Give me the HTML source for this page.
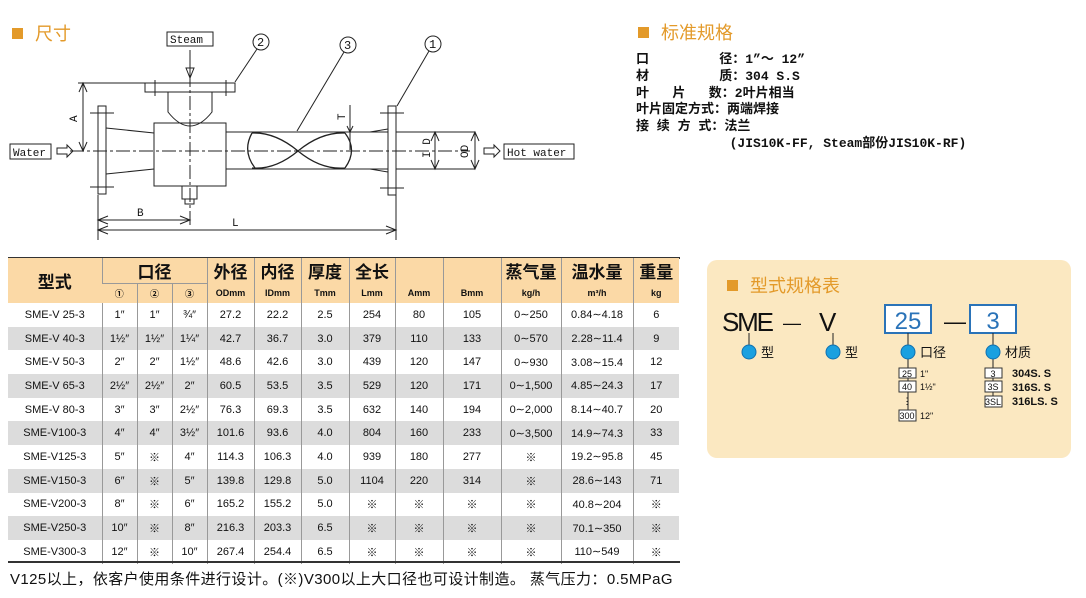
<!DOCTYPE html>
<html><head><meta charset="utf-8"><style>
body{margin:0;width:1086px;height:598px;background:#fff;position:relative;overflow:hidden;font-family:"Liberation Sans","Noto Sans CJK SC",sans-serif;}
.abs{position:absolute;white-space:nowrap;}
.ttl{color:#e39a2a;font-size:18px;}
.sq{display:inline-block;width:11px;height:11px;background:#e39a2a;margin-right:12px;vertical-align:1px;}
table{position:absolute;left:8px;top:258px;border-collapse:collapse;table-layout:fixed;font-family:"Liberation Sans","Noto Sans CJK SC",sans-serif;}
td{border-left:1px solid #999;text-align:center;font-size:11px;padding:0;height:23.7px;color:#111;}
td:first-child{border-left:none;}
tr.g td{background:#dcdcdc;}
thead td{background:#fbd9a6;font-size:17px;font-weight:bold;}
thead tr.s td{font-size:9px;height:19px;font-weight:bold;}
thead tr.h td{height:22px;}
.spec{font-size:13px;line-height:16.8px;font-weight:bold;font-family:"Liberation Mono","Noto Sans CJK SC",monospace;color:#111;}
</style></head><body>
<div class="abs ttl" style="left:12px;top:20px"><span class="sq"></span>尺寸</div>
<div class="abs ttl" style="left:638px;top:19px"><span class="sq"></span>标准规格</div>
<div class="abs spec" style="left:636px;top:52px">
口&nbsp;&nbsp;&nbsp;&nbsp;&nbsp;&nbsp;&nbsp;&nbsp;&nbsp;径：1”～ 12”<br>
材&nbsp;&nbsp;&nbsp;&nbsp;&nbsp;&nbsp;&nbsp;&nbsp;&nbsp;质：304 S.S<br>
叶&nbsp;&nbsp;&nbsp;片&nbsp;&nbsp;&nbsp;数：2叶片相当<br>
叶片固定方式：两端焊接<br>
接 续 方 式：法兰<br>
&nbsp;&nbsp;&nbsp;&nbsp;&nbsp;&nbsp;&nbsp;&nbsp;&nbsp;&nbsp;&nbsp;&nbsp;(JIS10K-FF, Steam部份JIS10K-RF)
</div>

<svg class="abs" style="left:0;top:0" width="620" height="255" viewBox="0 0 620 255" font-family="Liberation Mono,monospace" font-size="12">
<g stroke="#222" stroke-width="1" fill="none">
<rect x="98" y="106" width="8" height="88" fill="#fff"/>
<line x1="90" y1="113" x2="114" y2="113"/><line x1="90" y1="187" x2="114" y2="187"/>
<path d="M106 128 L154 133 M106 174 L154 169"/>
<rect x="154" y="123" width="72" height="63" fill="#fff"/>
<path d="M168 92 V112 Q190 140 212 112 V92"/>
<rect x="145" y="83" width="90" height="9" fill="#fff"/>
<line x1="155" y1="80" x2="155" y2="96"/><line x1="226" y1="80" x2="226" y2="96"/>
<rect x="182" y="186" width="15" height="13"/><rect x="185" y="199" width="9" height="5"/>
<line x1="226" y1="132" x2="475" y2="132"/><line x1="226" y1="169" x2="475" y2="169"/>
<line x1="475" y1="132" x2="475" y2="169"/>
<path d="M370 132 L388 129 M370 169 L388 172"/>
<rect x="388" y="106" width="8" height="89" fill="#fff"/>
<line x1="380" y1="113" x2="404" y2="113"/><line x1="380" y1="188" x2="404" y2="188"/>
<path d="M252 133 Q275 132 298 151 Q321 170 345 168 M252 168 Q275 170 298 151 Q321 132 345 133 M252 133 Q242 151 255 168 M345 133 Q358 150 345 168" stroke-width="1.3"/>
<line x1="70" y1="151" x2="470" y2="151" stroke-dasharray="14,3,3,3"/>
<line x1="190" y1="50" x2="190" y2="225" stroke-dasharray="14,3,3,3"/>
<line x1="190" y1="50" x2="190" y2="77"/><path d="M186 68 L190 78 L194 68 Z"/>
<line x1="78" y1="83" x2="145" y2="83"/>
<line x1="83" y1="83" x2="83" y2="151"/><path d="M79 92 L83 83 L87 92 M79 142 L83 151 L87 142"/>
<line x1="98" y1="195" x2="98" y2="240"/><line x1="396" y1="195" x2="396" y2="240"/>
<line x1="98" y1="220" x2="190" y2="220"/><path d="M108 216 L98 220 L108 224 M180 216 L190 220 L180 224"/>
<line x1="98" y1="230" x2="396" y2="230"/><path d="M108 226 L98 230 L108 234 M386 226 L396 230 L386 234"/>
<line x1="435" y1="132" x2="435" y2="169"/><path d="M431 141 L435 132 L439 141 M431 160 L435 169 L439 160"/>
<line x1="475" y1="132" x2="475" y2="169"/><path d="M471 141 L475 132 L479 141 M471 160 L475 169 L479 160"/>
<line x1="350" y1="105" x2="350" y2="150"/><path d="M347 126 L350 132 L353 126"/>
<circle cx="261" cy="42" r="8"/><circle cx="348" cy="45" r="8"/><circle cx="433" cy="44" r="8"/>
<line x1="257" y1="49" x2="235" y2="82"/><line x1="344" y1="52" x2="297" y2="131"/><line x1="429" y1="51" x2="397" y2="106"/>
<rect x="167" y="32" width="46" height="14"/><rect x="10" y="144" width="41" height="15"/><rect x="504" y="144" width="70" height="15"/>
<path d="M57 148 H67 V145 L73 151 L67 157 V154 H57 Z M484 148 H494 V145 L500 151 L494 157 V154 H484 Z"/>
</g>
<g fill="#111" font-size="11">
<text x="170" y="43">Steam</text><text x="13" y="156">Water</text><text x="507" y="156">Hot water</text>
<text x="257" y="46" font-size="12">2</text><text x="344" y="49" font-size="12">3</text><text x="429" y="48" font-size="12">1</text>
<text x="137" y="216">B</text><text x="232" y="226">L</text>
<text transform="translate(77,122) rotate(-90)">A</text>
<text transform="translate(430,158) rotate(-90)">I D</text>
<text transform="translate(468,158) rotate(-90)">OD</text>
<text transform="translate(345,120) rotate(-90)">T</text>
</g>
</svg>

<div class="abs" style="left:8px;top:257px;width:672px;height:2px;background:#333"></div>
<table>
<colgroup><col style="width:94px"><col style="width:35px"><col style="width:35px"><col style="width:35px"><col style="width:47px"><col style="width:47px"><col style="width:48px"><col style="width:46px"><col style="width:48px"><col style="width:58px"><col style="width:60px"><col style="width:72px"><col style="width:46px"></colgroup>
<thead>
<tr class="h"><td rowspan="2">型式</td><td colspan="3" style="border-bottom:1px solid #999">口径</td><td>外径</td><td>内径</td><td>厚度</td><td>全长</td><td></td><td></td><td>蒸气量</td><td>温水量</td><td>重量</td></tr>
<tr class="s"><td>①</td><td>②</td><td>③</td><td>ODmm</td><td>IDmm</td><td>Tmm</td><td>Lmm</td><td>Amm</td><td>Bmm</td><td>kg/h</td><td>m³/h</td><td>kg</td></tr>
</thead>
<tbody>
<tr><td>SME-V 25-3</td><td>1″</td><td>1″</td><td>¾″</td><td>27.2</td><td>22.2</td><td>2.5</td><td>254</td><td>80</td><td>105</td><td>0∼250</td><td>0.84∼4.18</td><td>6</td></tr>
<tr class="g"><td>SME-V 40-3</td><td>1½″</td><td>1½″</td><td>1¼″</td><td>42.7</td><td>36.7</td><td>3.0</td><td>379</td><td>110</td><td>133</td><td>0∼570</td><td>2.28∼11.4</td><td>9</td></tr>
<tr><td>SME-V 50-3</td><td>2″</td><td>2″</td><td>1½″</td><td>48.6</td><td>42.6</td><td>3.0</td><td>439</td><td>120</td><td>147</td><td>0∼930</td><td>3.08∼15.4</td><td>12</td></tr>
<tr class="g"><td>SME-V 65-3</td><td>2½″</td><td>2½″</td><td>2″</td><td>60.5</td><td>53.5</td><td>3.5</td><td>529</td><td>120</td><td>171</td><td>0∼1,500</td><td>4.85∼24.3</td><td>17</td></tr>
<tr><td>SME-V 80-3</td><td>3″</td><td>3″</td><td>2½″</td><td>76.3</td><td>69.3</td><td>3.5</td><td>632</td><td>140</td><td>194</td><td>0∼2,000</td><td>8.14∼40.7</td><td>20</td></tr>
<tr class="g"><td>SME-V100-3</td><td>4″</td><td>4″</td><td>3½″</td><td>101.6</td><td>93.6</td><td>4.0</td><td>804</td><td>160</td><td>233</td><td>0∼3,500</td><td>14.9∼74.3</td><td>33</td></tr>
<tr><td>SME-V125-3</td><td>5″</td><td>※</td><td>4″</td><td>114.3</td><td>106.3</td><td>4.0</td><td>939</td><td>180</td><td>277</td><td>※</td><td>19.2∼95.8</td><td>45</td></tr>
<tr class="g"><td>SME-V150-3</td><td>6″</td><td>※</td><td>5″</td><td>139.8</td><td>129.8</td><td>5.0</td><td>1104</td><td>220</td><td>314</td><td>※</td><td>28.6∼143</td><td>71</td></tr>
<tr><td>SME-V200-3</td><td>8″</td><td>※</td><td>6″</td><td>165.2</td><td>155.2</td><td>5.0</td><td>※</td><td>※</td><td>※</td><td>※</td><td>40.8∼204</td><td>※</td></tr>
<tr class="g"><td>SME-V250-3</td><td>10″</td><td>※</td><td>8″</td><td>216.3</td><td>203.3</td><td>6.5</td><td>※</td><td>※</td><td>※</td><td>※</td><td>70.1∼350</td><td>※</td></tr>
<tr><td>SME-V300-3</td><td>12″</td><td>※</td><td>10″</td><td>267.4</td><td>254.4</td><td>6.5</td><td>※</td><td>※</td><td>※</td><td>※</td><td>110∼549</td><td>※</td></tr>
</tbody></table>
<div class="abs" style="left:8px;top:561px;width:672px;height:2px;background:#333"></div>
<div class="abs" style="left:10px;top:568px;font-size:15px;letter-spacing:0.4px;color:#111">V125以上，依客户使用条件进行设计。(※)V300以上大口径也可设计制造。 蒸气压力：0.5MPaG</div>

<div class="abs" style="left:707px;top:260px;width:364px;height:198px;background:#fbe8c1;border-radius:10px"></div>
<div class="abs ttl" style="left:727px;top:272px"><span class="sq"></span>型式规格表</div>
<svg class="abs" style="left:700px;top:290px" width="386" height="150" viewBox="700 290 386 150" font-family="Liberation Sans,Noto Sans CJK SC,sans-serif">
<g font-size="26" fill="#111"><text x="722" y="331" textLength="52">SME</text><text x="783" y="329" font-size="18">—</text><text x="819" y="331">V</text><text x="944" y="329" font-size="22">—</text></g>
<rect x="885" y="305" width="46" height="28" fill="#fff" stroke="#2a73b8" stroke-width="2"/>
<rect x="970" y="305" width="46" height="28" fill="#fff" stroke="#2a73b8" stroke-width="2"/>
<g font-size="24" fill="#2a73b8" text-anchor="middle"><text x="908" y="329">25</text><text x="993" y="329">3</text></g>
<g stroke="#222"><line x1="749" y1="333" x2="749" y2="350"/><line x1="833" y1="333" x2="833" y2="350"/><line x1="908" y1="333" x2="908" y2="350"/><line x1="993" y1="333" x2="993" y2="350"/>
<line x1="908" y1="350" x2="908" y2="415"/><line x1="993" y1="350" x2="993" y2="400"/></g>
<g fill="#1aa0e0" stroke="#1070b0"><circle cx="749" cy="352" r="7"/><circle cx="833" cy="352" r="7"/><circle cx="908" cy="352" r="7"/><circle cx="993" cy="352" r="7"/></g>
<g font-size="13" fill="#111"><text x="761" y="357">型</text><text x="845" y="357">型</text><text x="920" y="357">口径</text><text x="1005" y="357">材质</text></g>
<g fill="#fff" stroke="#333"><rect x="899" y="368" width="17" height="10"/><rect x="899" y="381" width="17" height="11"/><rect x="899" y="410" width="17" height="11"/>
<rect x="985" y="368" width="17" height="10"/><rect x="985" y="381" width="17" height="11"/><rect x="985" y="396" width="17" height="11"/></g>
<g font-size="9" fill="#111" text-anchor="middle"><text x="907" y="377">25</text><text x="907" y="390">40</text><text x="907" y="419">300</text><text x="907" y="404">⋮</text>
<text x="993" y="377">3</text><text x="993" y="390">3S</text><text x="993" y="405">3SL</text></g>
<g font-size="9" fill="#111"><text x="920" y="377">1"</text><text x="920" y="390">1½"</text><text x="920" y="419">12"</text></g>
<g font-size="11" font-weight="bold" fill="#111"><text x="1012" y="377">304S. S</text><text x="1012" y="391">316S. S</text><text x="1012" y="405">316LS. S</text></g>
</svg>
</body></html>
